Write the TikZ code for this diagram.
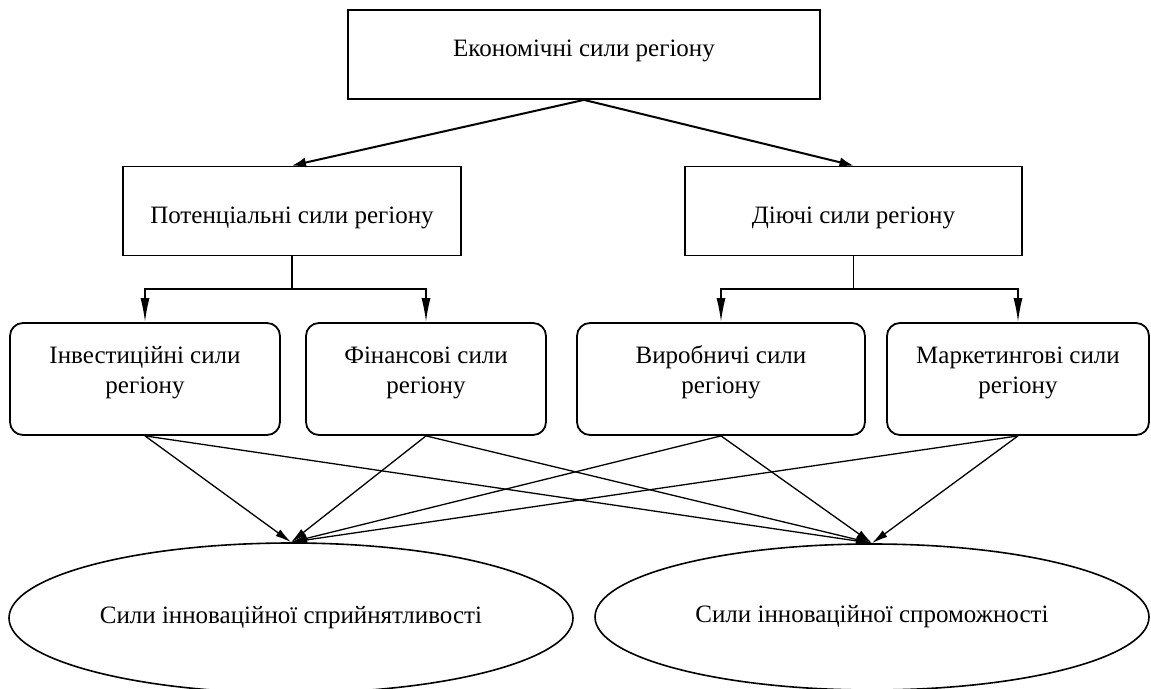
\documentclass[tikz,border=0pt]{standalone}
\usepackage{fontspec}
\setmainfont{Liberation Serif}
\usetikzlibrary{arrows.meta,shapes.geometric,positioning}
\tikzset{
    plain box/.style = {
        draw,
        line width=0.9pt,
        minimum height=44.5pt,
        font=\fontsize{12.5}{15}\selectfont,
        },
    kind box/.style = {
        draw,
        rounded corners=6.5pt,
        line width=0.9pt,
        minimum height=56pt,
        align=center,
        text depth=9pt,
        font=\fontsize{12.5}{15}\selectfont,
        },
    force ellipse/.style = {
        draw,
        ellipse,
        line width=0.8pt,
        font=\fontsize{12.5}{15}\selectfont,
        },
    top arrow/.style = {
        draw,
        line width=1pt,
        -{Latex[length=7pt,width=5pt]},
        },
    split arrow/.style = {
        draw,
        line width=0.8pt,
        -{Latex[length=12pt,width=4.5pt]},
        },
    cross arrow/.style = {
        draw,
        line width=0.65pt,
        -{Latex[length=8pt,width=4pt]},
        },
}

\begin{document}
\begin{tikzpicture}[x=0.5pt,y=-0.5pt]
            \useasboundingbox (0,0) rectangle (1151,689);

            \node[plain box, minimum width=236pt, text depth=6pt] (econ) at (584,54.5) {Економічні сили регіону};
            \node[plain box, minimum width=169pt, text height=15pt] (pot) at (292,211) {Потенціальні сили регіону};
            \node[plain box, minimum width=168.5pt, text height=15pt] (act) at (853.5,211) {Діючі сили регіону};

            \node[kind box, minimum width=135pt] (inv) at (145,379) {Інвестиційні сили\\регіону};
            \node[kind box, minimum width=120pt] (fin) at (426,379) {Фінансові сили\\регіону};
            \node[kind box, minimum width=144pt] (prod) at (721,379) {Виробничі сили\\регіону};
            \node[kind box, minimum width=131pt] (mark) at (1018,379) {Маркетингові сили\\регіону};

            \node[force ellipse, minimum width=282pt, minimum height=75pt] (recv) at (291,618) {Сили інноваційної сприйнятливості};
            \node[force ellipse, minimum width=277pt, minimum height=73pt] (cap) at (872,617) {Сили інноваційної спроможності};

            \coordinate (potj) at (292,289);
            \coordinate (actj) at (853.5,289);

            \path (econ.south) edge[top arrow] (pot.north);
            \path (econ.south) edge[top arrow] (act.north);

            \draw[line width=0.8pt] (pot.south) -- (potj);
            \draw[split arrow] (potj) -| (inv.north);
            \draw[split arrow] (potj) -| (fin.north);
            \draw[line width=0.8pt] (act.south) -- (actj);
            \draw[split arrow] (actj) -| (prod.north);
            \draw[split arrow] (actj) -| (mark.north);

            \path (inv.south) edge[cross arrow] (recv.north);
            \path (inv.south) edge[cross arrow] (cap.north);
            \path (fin.south) edge[cross arrow] (recv.north);
            \path (fin.south) edge[cross arrow] (cap.north);
            \path (prod.south) edge[cross arrow] (recv.north);
            \path (prod.south) edge[cross arrow] (cap.north);
            \path (mark.south) edge[cross arrow] (recv.north);
            \path (mark.south) edge[cross arrow] (cap.north);
        \end{tikzpicture}
\end{document}
